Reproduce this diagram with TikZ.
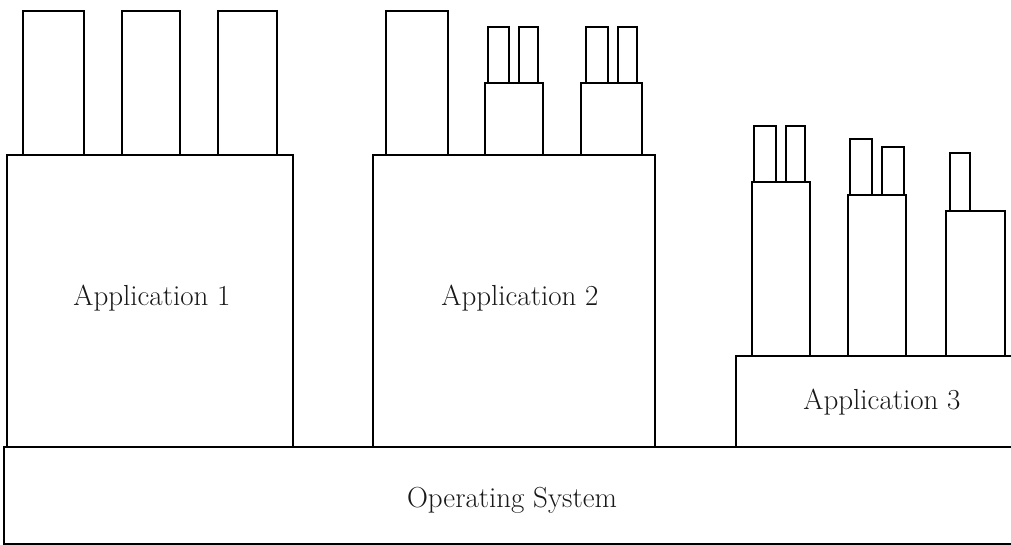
\documentclass[tikz,border=0pt]{standalone}
\begin{document}
\begin{tikzpicture}[x=1pt,y=-1pt,
  blk/.style={draw=black, line width=1.6pt, inner sep=0pt, anchor=north west, fill=white},
  lbl/.style={font=\fontsize{29}{34}\selectfont, text=black!90}]
\useasboundingbox (0,0) rectangle (1011,544);
% \blkbox{name}{left}{top}{right}{bottom}{text}
\newcommand\blkbox[6]{%
  \node[blk, minimum width={(#4-#2)*1pt}, minimum height={(#5-#3)*1pt}] (#1) at (#2,#3) {#6};}

% operating system layer
\blkbox{os}{3}{446}{1021}{543}{}
\node[lbl] (oslbl) at (512,500) {Operating System};

% application 1 and its components
\blkbox{appA}{6}{154}{292}{446}{}
\node[lbl] (appAlbl) at (152,298) {Application 1};
\blkbox{aA1}{22}{10}{83}{154}{}
\blkbox{aA2}{121}{10}{179}{154}{}
\blkbox{aA3}{217}{10}{276}{154}{}

% application 2 and its components
\blkbox{appB}{372}{154}{654}{446}{}
\node[lbl] (appBlbl) at (520,298) {Application 2};
\blkbox{bB1}{385}{10}{447}{154}{}
\blkbox{bB2}{484}{82}{542}{154}{}
\blkbox{bB2a}{487}{26}{508}{82}{}
\blkbox{bB2b}{518}{26}{537}{82}{}
\blkbox{bB3}{580}{82}{641}{154}{}
\blkbox{bB3a}{585}{26}{607}{82}{}
\blkbox{bB3b}{617}{26}{636}{82}{}

% application 3 and its components
\blkbox{appC}{735}{355}{1029}{446}{}
\node[lbl] (appClbl) at (882,402) {Application 3};
\blkbox{cC1}{751}{181}{809}{355}{}
\blkbox{cC1a}{753}{125}{775}{181}{}
\blkbox{cC1b}{785}{125}{804}{181}{}
\blkbox{cC2}{847}{194}{905}{355}{}
\blkbox{cC2a}{849}{138}{871}{194}{}
\blkbox{cC2b}{881}{146}{903}{194}{}
\blkbox{cC3}{945}{210}{1004}{355}{}
\blkbox{cC3a}{949}{152}{969}{210}{}
\end{tikzpicture}
\end{document}
